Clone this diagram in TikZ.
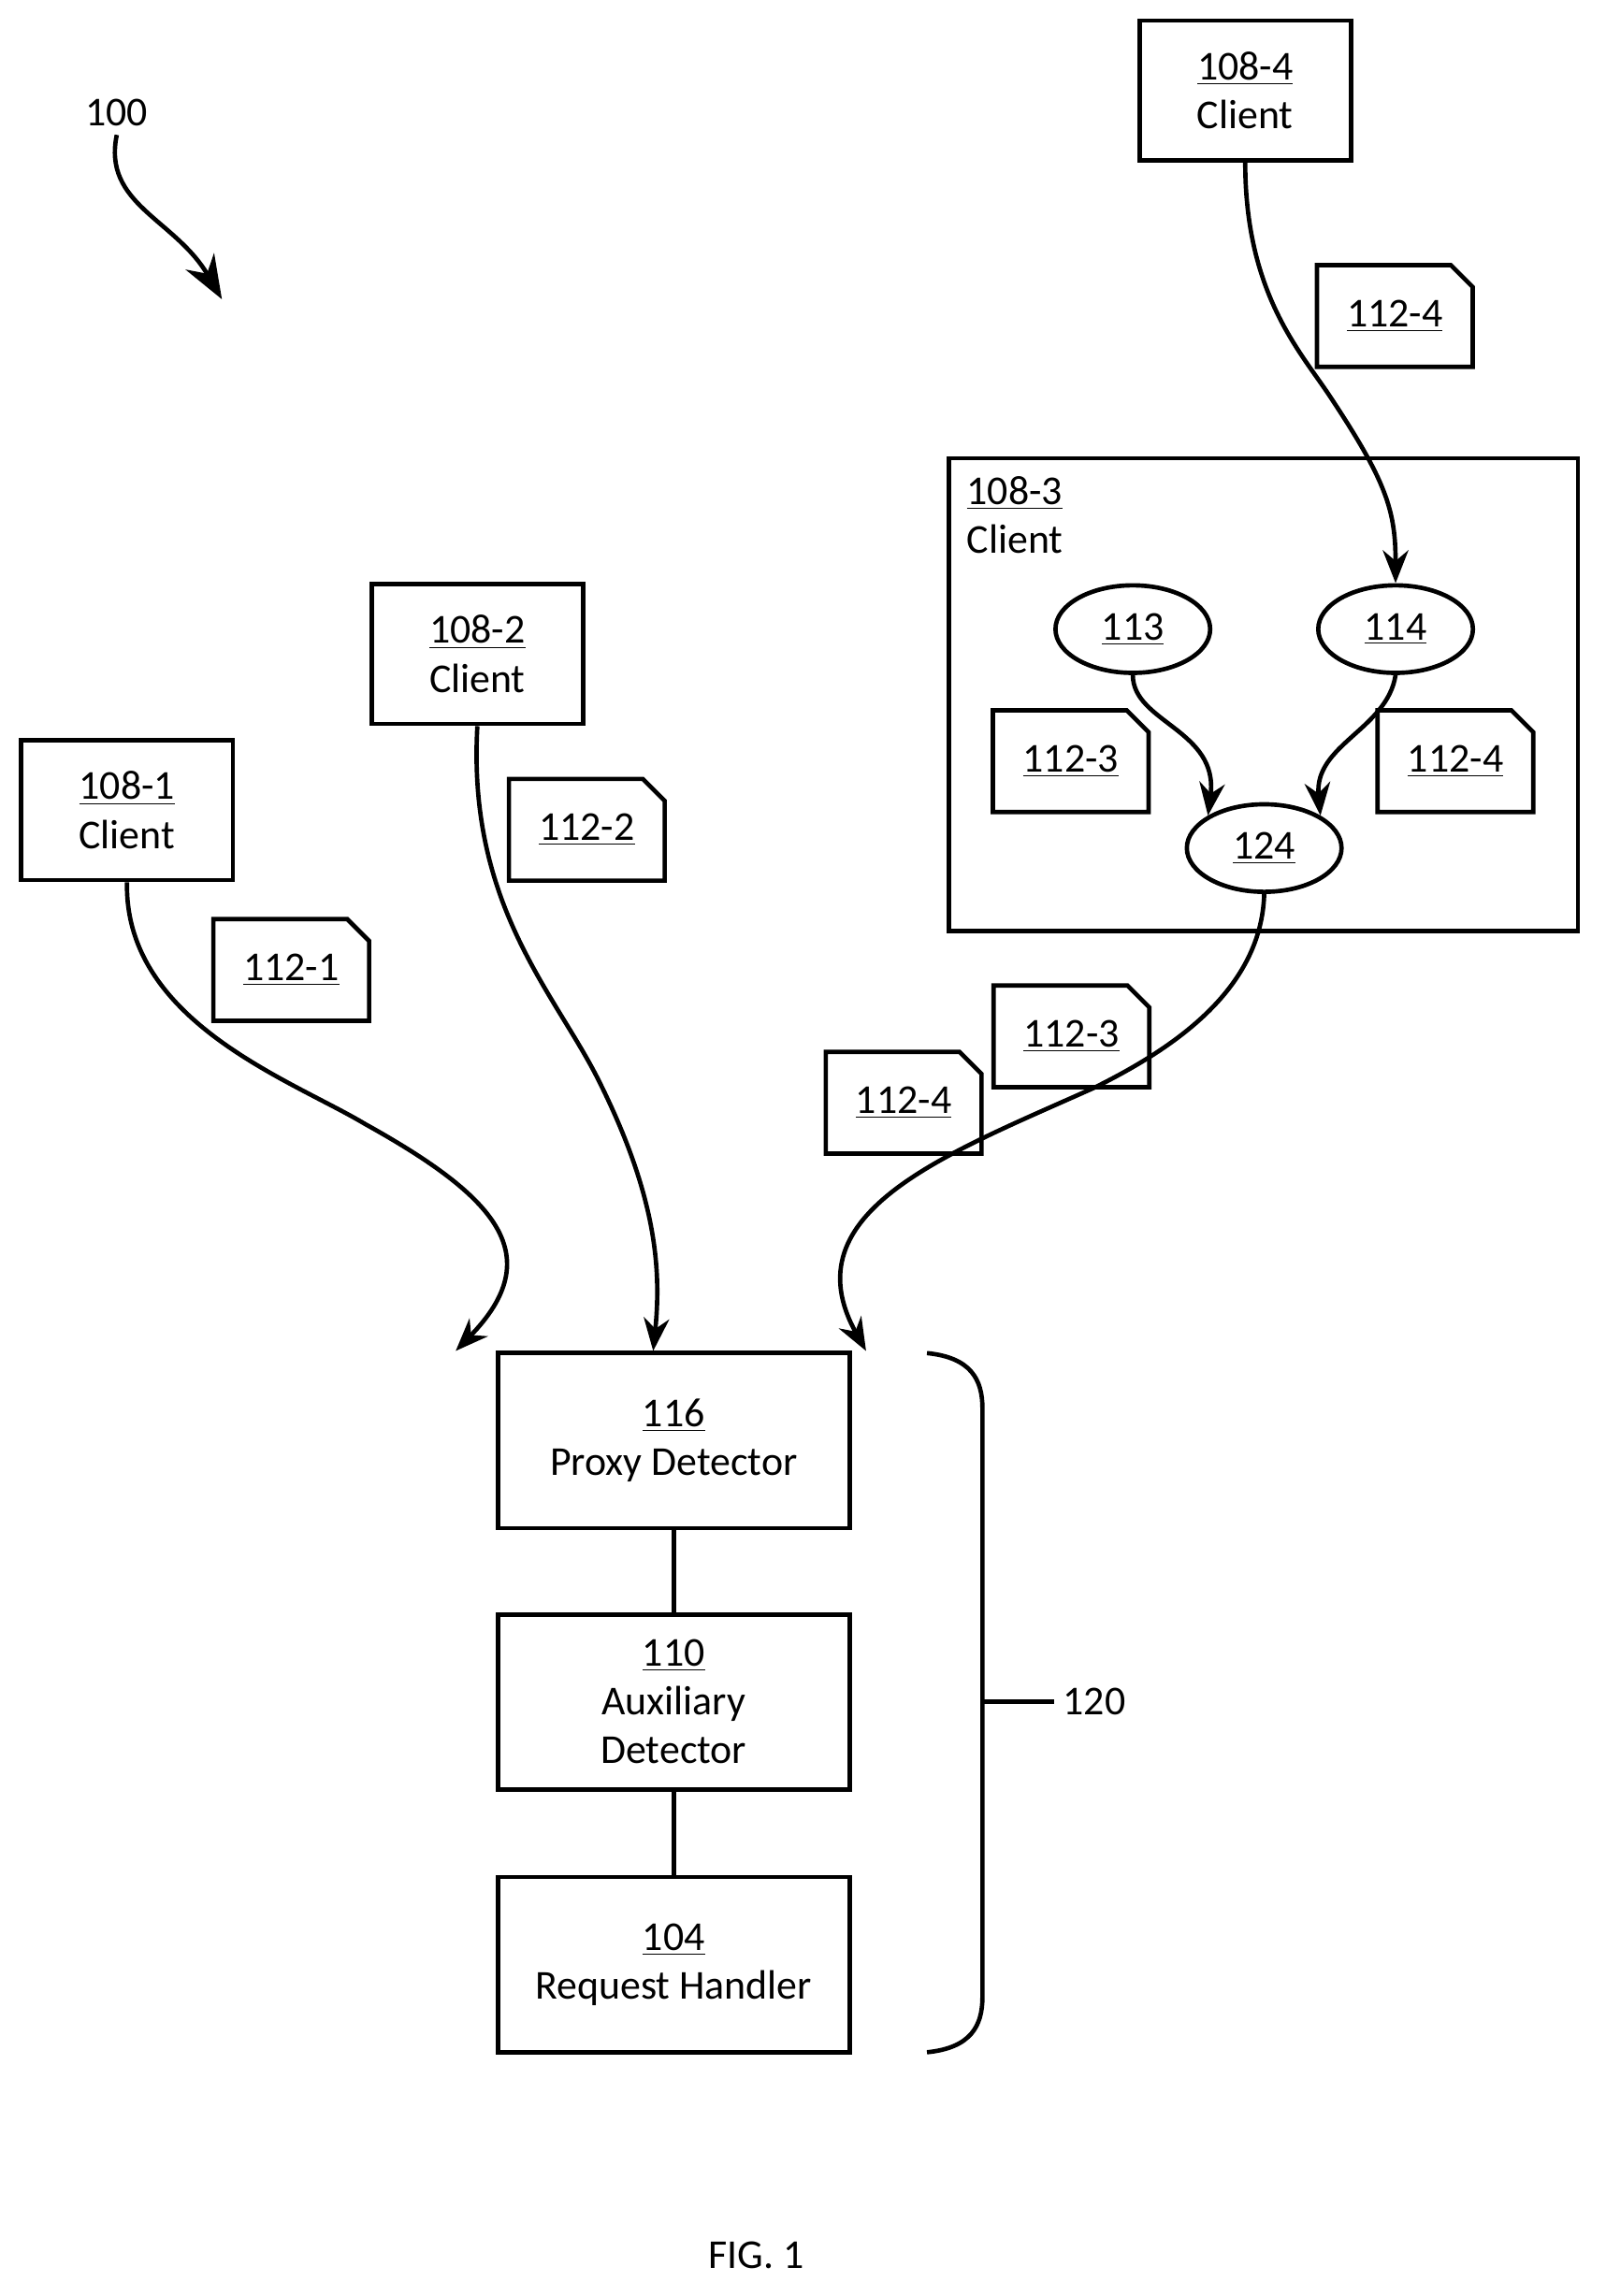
\documentclass[tikz,border=0pt]{standalone}
\usepackage{fontspec}
\setmainfont{Carlito}
\usetikzlibrary{arrows.meta,shapes.geometric}

\newcommand{\docnote}[3]{%
  \node[doc] (#1) at (#2) {\underline{#3}};
  \draw[line] (#1.south west) |- ([xshift=-0.3cm]#1.north east) -- ([yshift=-0.3cm]#1.north east) -- (#1.south east) -- cycle;}

\begin{document}
\begin{tikzpicture}[x=0.02cm,y=-0.02cm,
  line/.style={line width=1.7pt},
  box/.style={draw,line width=1.7pt,align=center,font=\fontsize{16}{19}\selectfont},
  doc/.style={minimum width=2.12cm,minimum height=1.38cm,inner sep=0pt,font=\fontsize{16}{19}\selectfont},
  oval/.style={ellipse,draw,line width=1.7pt,minimum width=2.12cm,minimum height=1.2cm,inner sep=0pt,font=\fontsize{16}{19}\selectfont},
  flow/.style={line width=1.7pt,-{Stealth[length=0.45cm,width=0.35cm]}}]
\useasboundingbox (0,0) rectangle (1100,1573);
\tikzset{every node/.append style={font=\fontsize{16}{19}\selectfont}}
% label and pointer
\node (fig) at (80,77) {100};
\coordinate (figend) at (152,205);
\draw[line width=1.7pt,-{Stealth[length=0.6cm,width=0.45cm]}] (fig.south) .. controls (70,140) and (120,150) .. (figend);
% clients
\node[box,minimum width=2.9cm,minimum height=1.92cm] (c4) at (853,62) {\underline{108-4}\\Client};
\node[box,minimum width=2.9cm,minimum height=1.92cm] (c2) at (327,448) {\underline{108-2}\\Client};
\node[box,minimum width=2.9cm,minimum height=1.92cm] (c1) at (87,555) {\underline{108-1}\\Client};
\node[draw,line width=1.7pt,minimum width=8.62cm,minimum height=6.48cm] (c3) at (865.5,476) {};
\node[anchor=north west,align=left,inner sep=0pt] (c3l) at (662,326) {\underline{108-3}\\Client};
\node[oval] (n113) at (776,431) {\underline{113}};
\node[oval] (n114) at (956,431) {\underline{114}};
\node[oval] (n124) at (866,581) {\underline{124}};
% messages
\docnote{m4a}{955.5,216.5}{112-4}
\docnote{m3a}{733.5,521.5}{112-3}
\docnote{m4b}{997,521.5}{112-4}
\docnote{m2}{402,568.5}{112-2}
\docnote{m1}{199.5,664.5}{112-1}
\docnote{m3b}{734,710}{112-3}
\docnote{m4c}{619,755.5}{112-4}
% server side
\node[box,minimum width=4.82cm,minimum height=2.4cm] (pd) at (461.5,987) {\underline{116}\\Proxy Detector};
\node[box,minimum width=4.82cm,minimum height=2.4cm] (ad) at (461.5,1166) {\underline{110}\\Auxiliary\\Detector};
\node[box,minimum width=4.82cm,minimum height=2.4cm] (rh) at (461.5,1346) {\underline{104}\\Request Handler};
\draw[line] (pd) -- (ad);
\draw[line] (ad) -- (rh);
% flows
\draw[flow] (c4.south) .. controls (853,200) and (890,240) .. (910,270) .. controls (950,330) and (956,350) .. (n114.north);
\draw[flow] (n113.south) .. controls (776,495) and (835,500) .. (n124.north west);
\draw[flow] (n114.south) .. controls (950,500) and (900,510) .. (n124.north east);
\draw[flow] (c1.south) .. controls (85,700) and (200,740) .. (250,770) .. controls (340,820) and (376,860) .. ([xshift=-85]pd.north);
\draw[flow] (c2.south) .. controls (320,620) and (380,680) .. (410,740) .. controls (450,820) and (453,870) .. ([xshift=-8]pd.north);
\draw[flow] (n124.south) .. controls (864,680) and (800,720) .. (750,745) .. controls (650,790) and (540,830) .. ([xshift=75]pd.north);
% brace
\coordinate (bt) at (635,927);
\coordinate (bb) at (635,1406);
\node[anchor=west] (grp) at (722,1166) {120};
\draw[line] (bt) .. controls (665,930) and (673,945) .. (673,965) -- (673,1368) .. controls (673,1388) and (665,1403) .. (bb);
\draw[line] (673,1166) -- (grp.west);
\node (cap) at (518,1545) {FIG. 1};
\end{tikzpicture}
\end{document}
